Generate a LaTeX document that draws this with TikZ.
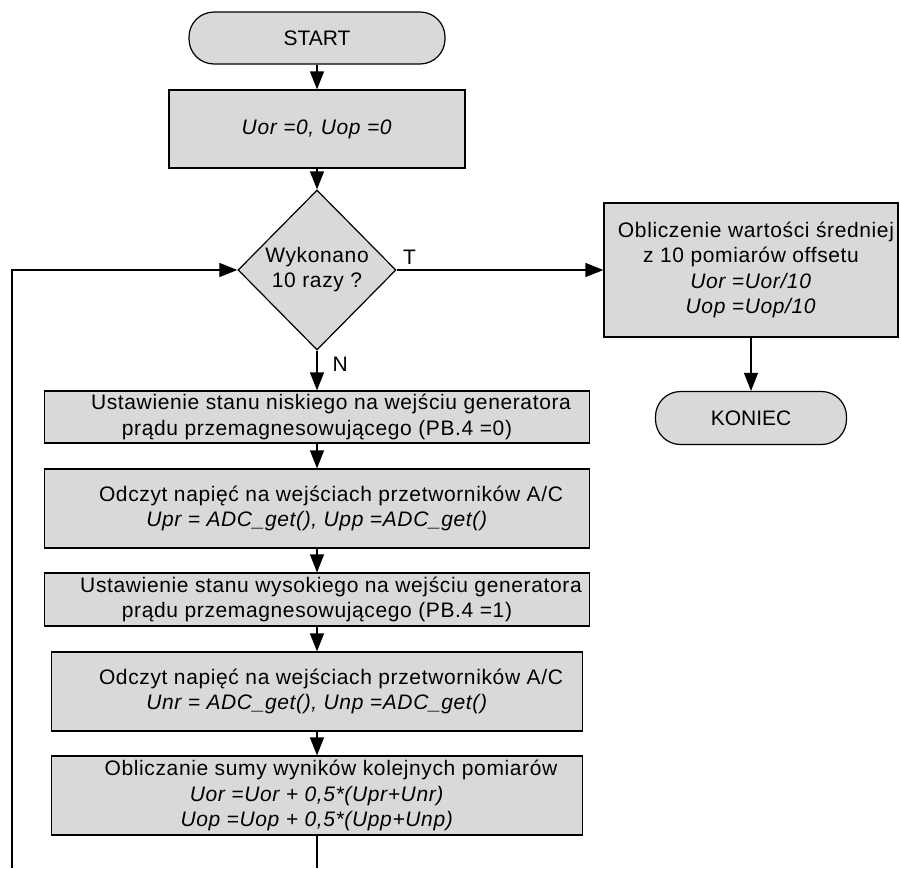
\documentclass[tikz,border=0pt]{standalone}
\usepackage{fontspec}
\setmainfont{Liberation Sans}
\newfontfamily\boxfont{Liberation Sans}[LetterSpace=3]
\usetikzlibrary{shapes.geometric, arrows.meta, positioning}

\begin{document}
\begin{tikzpicture}[>={Triangle[length=18pt,width=14pt]}, x=1pt, y=-1pt, line width=1.2pt]

                \tikzset{% This is the style settings for the blocks
                    block/.style={rectangle,draw,fill=black!15,minimum width=#1,inner sep=0pt,align=center,
                                        font=\boxfont\fontsize{21}{25.5}\selectfont},
                    term/.style={rectangle,rounded corners=25pt,draw,fill=black!15,minimum width=#1,
                                        minimum height=52pt,inner sep=0pt,font=\fontsize{21}{25}\selectfont},
                    decision/.style={diamond,draw,fill=black!15,minimum width=158pt,minimum height=160pt,
                                        inner sep=0pt,align=center,font=\boxfont\fontsize{21}{25}\selectfont},
                    lab/.style={inner sep=2pt,font=\fontsize{21}{25}\selectfont}}

                    \useasboundingbox (0,0) rectangle (901,868);

                    \node [term=256pt](start) at (317,38) {START};
                    \node [block=296pt,minimum height=78pt](b_1) at (317,129) {\textit{Uor =0, Uop =0}};
                    \node [decision](d_1) at (317,270) {Wykonano\\10 razy ?};
                    \node [block=294pt,minimum height=134pt](b_r) at (751,270)
                        {\hspace*{10pt}Obliczenie wartości średniej\\z 10 pomiarów offsetu\\\textit{Uor =Uor/10}\\\textit{Uop =Uop/10}};
                    \node [term=191pt,minimum height=53pt](stop) at (751,418) {KONIEC};

                    \node [block=545pt,minimum height=52pt](b_2) at (317,417)
                        {\hspace*{28pt}Ustawienie stanu niskiego na wejściu generatora\\prądu przemagnesowującego (PB.4 =0)};
                    \node [block=545pt,minimum height=79pt](b_3) at (317,508.5)
                        {\hspace*{28pt}Odczyt napięć na wejściach przetworników A/C\\\textit{Upr = ADC\_get(), Upp =ADC\_get()}};
                    \node [block=545pt,minimum height=53pt](b_4) at (317,599.5)
                        {\hspace*{28pt}Ustawienie stanu wysokiego na wejściu generatora\\prądu przemagnesowującego (PB.4 =1)};
                    \node [block=531pt,minimum height=79pt](b_5) at (317,691.5)
                        {\hspace*{28pt}Odczyt napięć na wejściach przetworników A/C\\\textit{Unr = ADC\_get(), Unp =ADC\_get()}};
                    \node [block=531pt,minimum height=79pt](b_6) at (317,795.5)
                        {\hspace*{28pt}Obliczanie sumy wyników kolejnych pomiarów\\\textit{Uor =Uor + 0,5*(Upr+Unr)}\\\textit{Uop =Uop + 0,5*(Upp+Unp)}};

                    \node [lab,above right=3pt and 4pt of d_1.east](lab_t) {T};
                    \node [lab,below right=4pt and 13pt of d_1.south](lab_n) {N};

                    \coordinate (end_b) at (317,868);
                    \coordinate (end_l) at (12,868);

                    \draw [->] (start) -- (b_1);
                    \draw [->] (b_1) -- (d_1);
                    \draw [->] (d_1) -- (b_r);
                    \draw [->] (b_r) -- (stop);
                    \draw [->] (d_1) -- (b_2);
                    \draw [->] (b_2) -- (b_3);
                    \draw [->] (b_3) -- (b_4);
                    \draw [->] (b_4) -- (b_5);
                    \draw [->] (b_5) -- (b_6);
                    \draw (b_6) -- (end_b);
                    \draw [->] (end_l) |- (d_1);

            \end{tikzpicture}
\end{document}
